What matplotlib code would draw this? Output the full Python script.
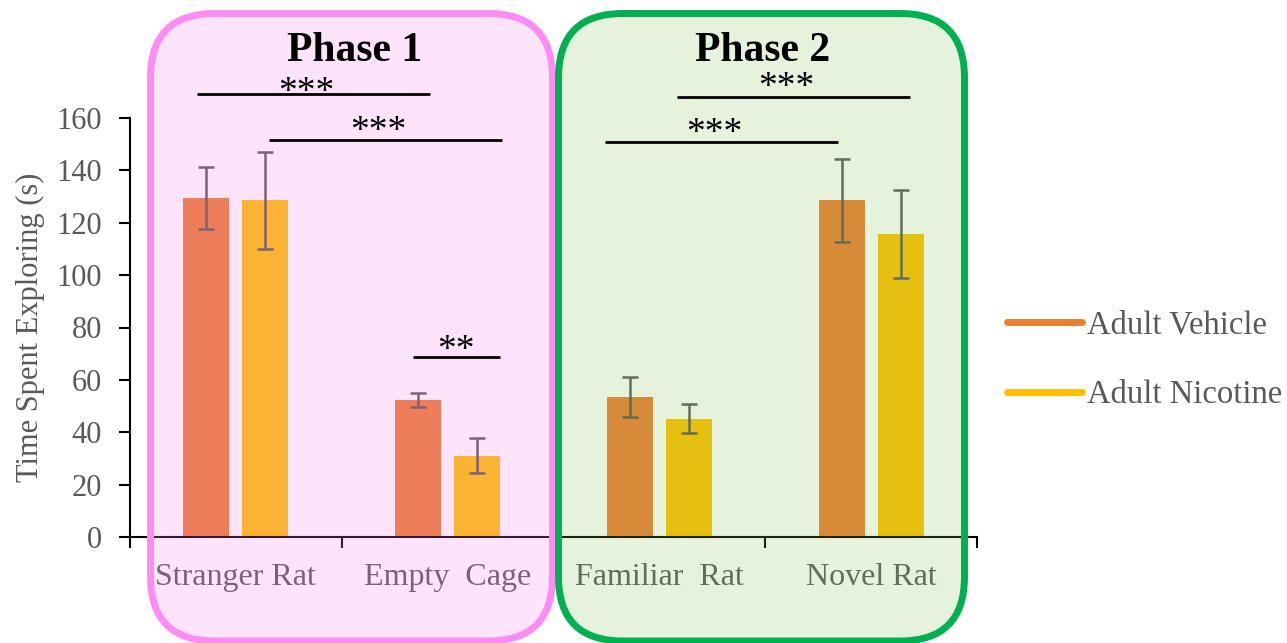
import matplotlib
matplotlib.use("Agg")
import matplotlib.pyplot as plt
import numpy as np
from matplotlib.patches import FancyBboxPatch
from matplotlib.lines import Line2D

plt.rcParams['font.family'] = ['Liberation Serif', 'DejaVu Serif']

# exploration time (s), mean and SEM per chamber
categories = ['Stranger Rat', 'Empty  Cage', 'Familiar  Rat', 'Novel Rat']
vehicle = [129.5, 52.3, 53.4, 128.6]
vehicle_err = [11.8, 2.6, 7.7, 15.8]
nicotine = [128.5, 31.0, 45.2, 115.6]
nicotine_err = [18.5, 6.7, 5.6, 16.8]
series_names = ['Adult Vehicle', 'Adult Nicotine']
yticks = [0, 20, 40, 60, 80, 100, 120, 140, 160]

# significance brackets: (x start, x end, height, stars, star lift)
brackets = [(-0.184, 0.917, 169.0, '***', 0.6),
            (0.156, 1.257, 151.5, '***', 3.2),
            (0.836, 1.247, 68.7, '**', 2.6),
            (2.083, 3.184, 168.0, '***', 3.4),
            (1.743, 2.844, 150.8, '***', 3.0)]

W, H = 1287, 643
fig = plt.figure(figsize=(W / 100, H / 100), dpi=100)

def fbox(x0, y0, x1, y1):
    # pixel box (top-left origin) -> figure fraction rect
    return [x0 / W, 1 - y1 / H, (x1 - x0) / W, (y1 - y0) / H]

ax = fig.add_axes(fbox(130, 118, 977, 537))
ax.set_facecolor('none')

orange, yellow = '#ED7D31', '#FFC000'
grey = '#595959'
x = np.arange(len(categories))
bw, off = 0.217, 0.139
ax.bar(x - off, vehicle, bw, color=orange, yerr=vehicle_err,
       error_kw=dict(ecolor=grey, elinewidth=1.8, capsize=5.5, capthick=1.8))
ax.bar(x + off, nicotine, bw, color=yellow, yerr=nicotine_err,
       error_kw=dict(ecolor=grey, elinewidth=1.8, capsize=5.5, capthick=1.8))

ax.set_xlim(-0.5, 3.5)
ax.set_ylim(0, 160)
ax.set_yticks(yticks)
ax.set_xticks(np.arange(-0.5, 4.0, 1.0))
ax.set_xticklabels([])
ax.set_xticks(x, minor=True)
ax.set_xticklabels(categories, minor=True)
ax.tick_params(axis='x', which='major', direction='out', length=8, width=1.5, color='black')
ax.tick_params(axis='x', which='minor', length=0, pad=19, labelsize=23, labelcolor=grey)
ax.tick_params(axis='y', direction='out', length=8, width=1.5, pad=12,
               labelsize=22, labelcolor=grey)
for s in ['top', 'right']:
    ax.spines[s].set_visible(False)
for s in ['left', 'bottom']:
    ax.spines[s].set_linewidth(1.5)
ax.set_ylabel('Time Spent Exploring (s)', fontsize=22, color=grey, labelpad=8)

# legend
handles = [Line2D([], [], color=c, lw=5, solid_capstyle='round') for c in (orange, yellow)]
fig.legend(handles, series_names, loc='center left', bbox_to_anchor=(978 / W, 1 - 360 / H),
           frameon=False, fontsize=23.5, labelcolor=grey, handlelength=2.3,
           handletextpad=0.15, labelspacing=1.2)

# translucent phase panels over the bars
panels = [((150.5, 13.5, 552.5, 641), (246 / 255, 134 / 255, 237 / 255), '#FF8CF5', 0.22),
          ((558.5, 13.5, 964.5, 641), (130 / 255, 195 / 255, 80 / 255), '#00B050', 0.20)]
for (x0, y0, x1, y1), face, edge, a in panels:
    r = fbox(x0, y0, x1, y1)
    p = FancyBboxPatch((r[0], r[1]), r[2], r[3],
                       boxstyle='round,pad=0,rounding_size=0.05',
                       mutation_aspect=W / H,
                       transform=fig.transFigure, facecolor=(*face, a),
                       edgecolor=edge, linewidth=5, zorder=2)
    fig.add_artist(p)

# brackets and titles on top of the panels
top = fig.add_axes(ax.get_position().bounds, zorder=5)
top.set_xlim(ax.get_xlim())
top.set_ylim(ax.get_ylim())
top.axis('off')
for x1, x2, yb, label, lift in brackets:
    top.plot([x1, x2], [yb, yb], color='black', lw=2, clip_on=False,
             solid_capstyle='butt')
    shift = 0.035 if label == '***' else 0.0
    top.text((x1 + x2) / 2 - shift, yb + lift, label, ha='center', va='center',
             fontsize=27, color='black', clip_on=False)

fig.text(355 / W, 1 - 51 / H, 'Phase 1', ha='center', va='center',
         fontsize=30, fontweight='bold', zorder=6)
fig.text(763 / W, 1 - 51 / H, 'Phase 2', ha='center', va='center',
         fontsize=30, fontweight='bold', zorder=6)

fig.savefig('out.png', dpi=100)
